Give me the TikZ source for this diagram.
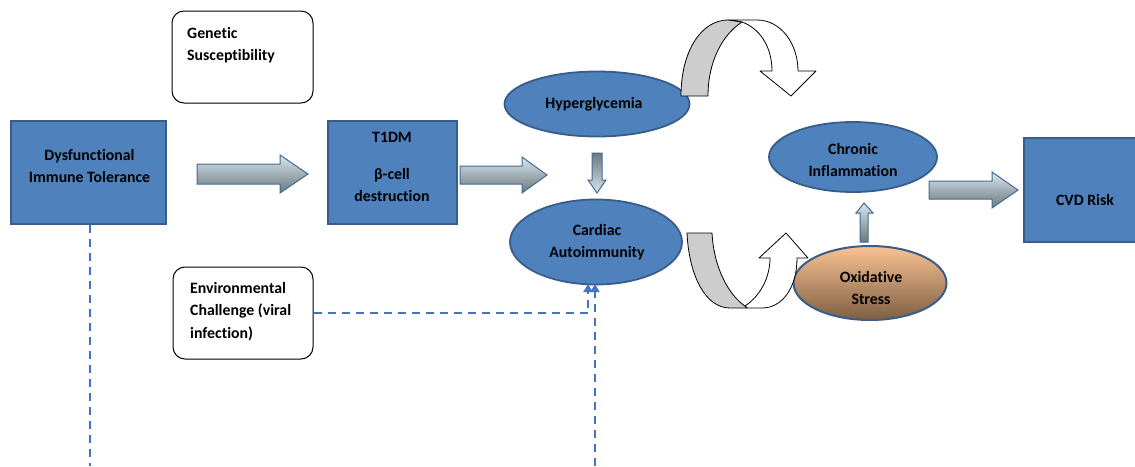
\documentclass[tikz,border=0pt]{standalone}
\usepackage{fontspec}
\setmainfont{Carlito}[Ligatures={NoCommon}]
\usetikzlibrary{shapes.geometric,arrows.meta}
\definecolor{bfill}{RGB}{79,129,189}
\definecolor{bdraw}{RGB}{56,93,138}
\definecolor{arlight}{RGB}{214,230,238}
\definecolor{ardark}{RGB}{108,120,124}
\definecolor{ardraw}{RGB}{70,105,150}
\definecolor{dashc}{RGB}{68,114,196}
\definecolor{oxtop}{RGB}{250,194,146}
\definecolor{oxbot}{RGB}{125,95,68}
\definecolor{curvegray}{RGB}{205,205,205}
\tikzset{
  lbl/.style={font=\bfseries\fontsize{15.8}{22}\selectfont, align=center, inner sep=0pt, text=black},
  bluebox/.style={draw=bdraw, fill=bfill, line width=1.6pt, inner sep=0pt},
  roundbox/.style={draw=black, fill=white, line width=1pt, rounded corners=12pt, inner sep=0pt},
  blueell/.style={ellipse, draw=bdraw, fill=bfill, line width=1.8pt, inner sep=0pt},
  barrow/.style={draw=ardraw, line width=1pt, line join=miter},
  hshade/.style={top color=arlight, bottom color=ardark},
  dashline/.style={draw=dashc, line width=1.8pt, dash pattern=on 8pt off 6pt, -{Triangle[width=9pt,length=8pt]}},
  curv/.style={draw=black, line width=0.8pt, line join=round}
}
\begin{document}
\begin{tikzpicture}[x=1pt,y=-1pt]
\useasboundingbox (0,0) rectangle (1135,466);

% boxes
\node[bluebox, minimum width=155pt, minimum height=103pt] (dys) at (88.5,172.5) {};
\node[lbl] (dyst) at (89.5,166) {Dysfunctional\\Immune Tolerance};

\node[bluebox, minimum width=129pt, minimum height=103pt] (t1) at (392.5,172.5) {};
\node[lbl] (t1t) at (392,167) {T1DM\\[15pt]β-cell\\destruction};

\node[bluebox, minimum width=112pt, minimum height=104pt] (cvd) at (1080,190) {};
\node[lbl] (cvdt) at (1085,200) {CVD Risk};

\node[roundbox, minimum width=141pt, minimum height=92pt] (gen) at (242.5,57) {};
\node[lbl, align=left, anchor=north west] (gent) at (187,27) {Genetic\\Susceptibility};

\node[roundbox, minimum width=140pt, minimum height=92pt] (env) at (243,313) {};
\node[lbl, align=left, anchor=north west, font=\bfseries\fontsize{15.8}{22.5}\selectfont] (envt) at (190,282) {Environmental\\Challenge (viral\\infection)};

% ellipses
\node[blueell, minimum width=185pt, minimum height=65pt] (hyp) at (597,104) {};
\node[lbl] (hypt) at (594,104) {Hyperglycemia};

\node[blueell, minimum width=172pt, minimum height=85pt] (car) at (596,242) {};
\node[lbl] (cart) at (597,242) {Cardiac\\Autoimmunity};

\node[blueell, minimum width=168pt, minimum height=70pt] (chr) at (853,157) {};
\node[lbl] (chrt) at (853,160) {Chronic\\Inflammation};

\node[ellipse, draw=bdraw, line width=2pt, top color=oxtop, bottom color=oxbot, inner sep=0pt, minimum width=153pt, minimum height=74pt] (oxi) at (870,283) {};
\node[lbl] (oxit) at (871,288) {Oxidative\\Stress};

% block arrows
\draw[barrow, hshade] (197,164) -- (280,164) -- (280,155) -- (308,174) -- (280,193) -- (280,184) -- (197,184) -- cycle;
\draw[barrow, hshade] (460,166) -- (522,166) -- (522,157) -- (547,175) -- (522,193) -- (522,184) -- (460,184) -- cycle;
\draw[barrow, hshade] (929,181) -- (992,181) -- (992,172) -- (1018,190) -- (992,208) -- (992,199) -- (929,199) -- cycle;
\draw[barrow, top color=ardark, bottom color=arlight] (592,153) -- (602,153) -- (602,180) -- (606,180) -- (597,193) -- (588,180) -- (592,180) -- cycle;
\draw[barrow, top color=arlight, bottom color=ardark] (860,242) -- (868,242) -- (868,213) -- (873,213) -- (864,203) -- (856,213) -- (860,213) -- cycle;

% curved arrows (top)
\draw[curv, fill=white] (728,20) -- (757,20) .. controls (781,20) and (798,44) .. (798,71) -- (816,71) -- (791,96) -- (760,71) -- (772,71) .. controls (772,46) and (759,28) .. (742,22) -- cycle;
\draw[curv, fill=curvegray] (681,96) .. controls (681,50) and (702,20) .. (728,20) -- (742,22) .. controls (722,35) and (708,62) .. (708,96) -- cycle;

% curved arrows (bottom)
\draw[curv, fill=white] (745,306) .. controls (760,296) and (770,278) .. (770,258) -- (759,258) -- (786,233) -- (808,258) -- (797,258) .. controls (797,288) and (782,308) .. (762,308) -- (747,308) -- cycle;
\draw[curv, fill=curvegray] (687,233) -- (712,233) .. controls (714,270) and (730,296) .. (745,306) -- (747,308) -- (730,308) .. controls (705,308) and (689,275) .. (687,233) -- cycle;

% dashed connectors
\coordinate (c1) at (588,284);
\coordinate (c2) at (595,284);
\coordinate (b1) at (90,466);
\coordinate (b2) at (595,466);
\draw[dashline] (env.east) -| (c1);
\draw[dashline] (b2) -- (c2);
\draw[dashline, -] (dys.south -| b1) -- (b1);
\end{tikzpicture}
\end{document}
